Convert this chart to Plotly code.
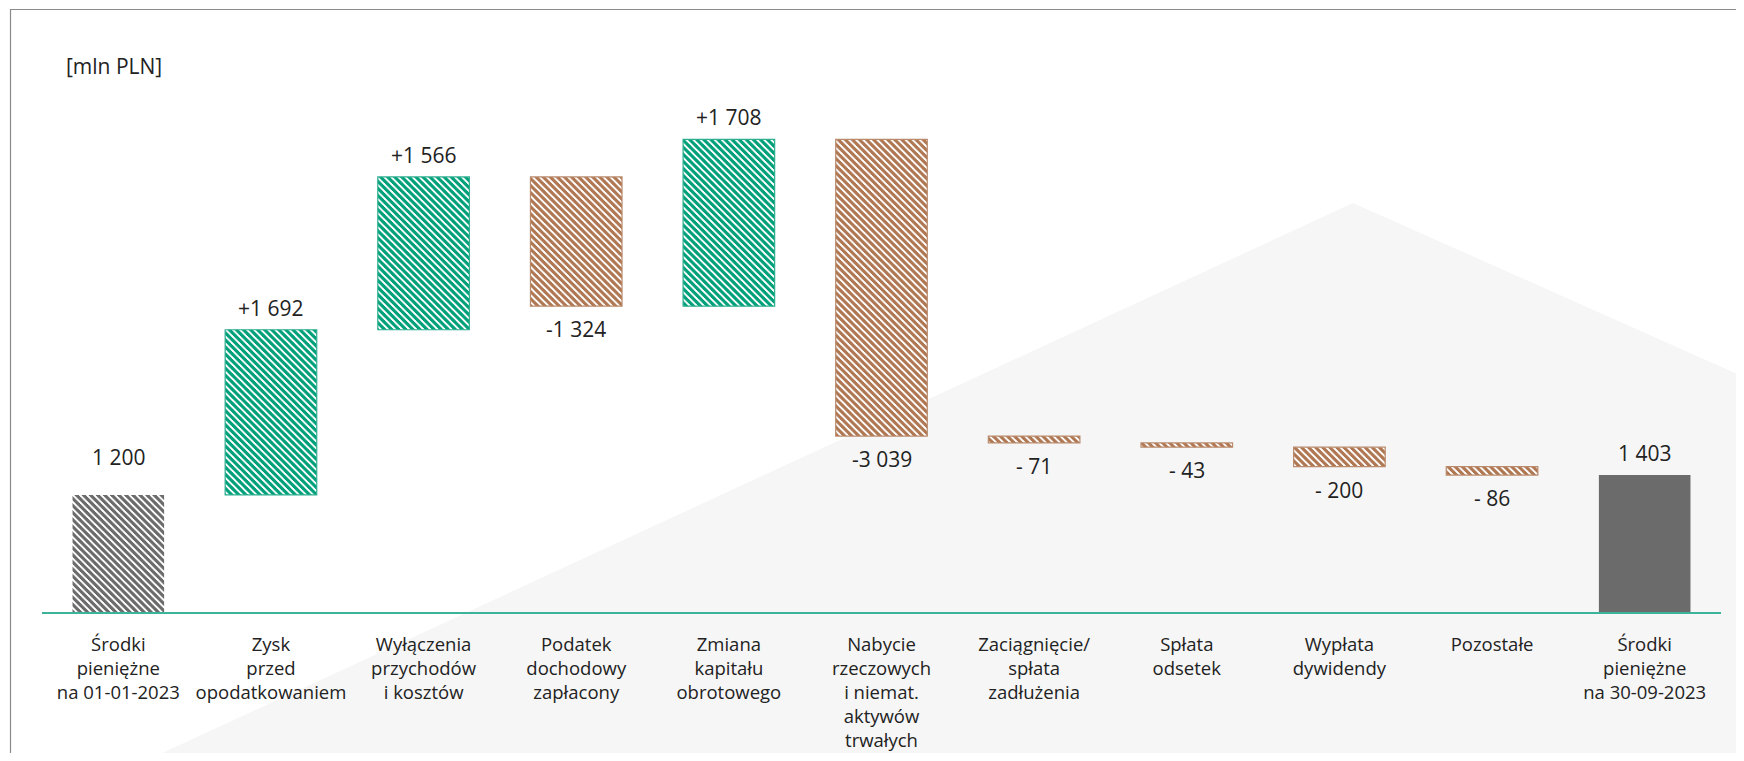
import numpy as np
import plotly.graph_objects as go

# ---- data ----
categories = [
    "Środki<br>pieniężne<br>na 01-01-2023",
    "Zysk<br>przed<br>opodatkowaniem",
    "Wyłączenia<br>przychodów<br>i kosztów",
    "Podatek<br>dochodowy<br>zapłacony",
    "Zmiana<br>kapitału<br>obrotowego",
    "Nabycie<br>rzeczowych<br>i niemat.<br>aktywów<br>trwałych",
    "Zaciągnięcie/<br>spłata<br>zadłużenia",
    "Spłata<br>odsetek",
    "Wypłata<br>dywidendy",
    "Pozostałe",
    "Środki<br>pieniężne<br>na 30-09-2023",
]
opening_value = 1200
changes = [1692, 1566, -1324, 1708, -3039, -71, -43, -200, -86]
closing_value = 1403
value_labels = ["1 200", "+1 692", "+1 566", "-1 324", "+1 708", "-3 039",
                "- 71", "- 43", "- 200", "- 86", "1 403"]
unit_label = "[mln PLN]"

# ---- derived ----
cum = opening_value + np.cumsum(changes)
prev = np.concatenate([[opening_value], cum[:-1]])
mid_cats = categories[1:-1]

GREEN = "#00a07a"
BROWN = "#b07753"
GRAY = "#6b6b6b"
TEXT = "#222222"
FONT = "Open Sans"

W = 0.6
PAT = dict(shape="\\", bgcolor="white", size=5, solidity=0.65, fgopacity=1)
fig = go.Figure()

# opening bar (hatched gray)
fig.add_trace(go.Bar(
    x=[categories[0]], y=[opening_value], base=[0], width=W,
    marker=dict(color="white", line=dict(width=0), pattern=dict(PAT, fgcolor=GRAY)),
    showlegend=False, hoverinfo="skip"))

inc_x = [c for c, d in zip(mid_cats, changes) if d > 0]
inc_y = [d for d in changes if d > 0]
inc_b = [p for p, d in zip(prev, changes) if d > 0]
dec_x = [c for c, d in zip(mid_cats, changes) if d < 0]
dec_y = [-d for d in changes if d < 0]
dec_b = [p + d for p, d in zip(prev, changes) if d < 0]

fig.add_trace(go.Bar(
    x=inc_x, y=inc_y, base=inc_b, width=W,
    marker=dict(color="white", line=dict(color="#2fae90", width=1.2),
                pattern=dict(PAT, fgcolor=GREEN)),
    showlegend=False, hoverinfo="skip"))
fig.add_trace(go.Bar(
    x=dec_x, y=dec_y, base=dec_b, width=W,
    marker=dict(color="white", line=dict(color="#b98a6c", width=1.2),
                pattern=dict(PAT, fgcolor=BROWN)),
    showlegend=False, hoverinfo="skip"))

# closing bar (solid gray)
fig.add_trace(go.Bar(
    x=[categories[-1]], y=[closing_value], base=[0], width=W,
    marker=dict(color=GRAY, line=dict(width=0)),
    showlegend=False, hoverinfo="skip"))

# value labels
ann = []
tops = [opening_value] + [max(p, c) for p, c in zip(prev, cum)] + [closing_value]
bottoms = [0] + [min(p, c) for p, c in zip(prev, cum)] + [0]
signs = [1] + [1 if d > 0 else -1 for d in changes] + [1]
for i, (cat, lab) in enumerate(zip(categories, value_labels)):
    if signs[i] > 0:
        shift = 22 if i == 0 else 6
        ann.append(dict(x=cat, y=tops[i], text=lab, showarrow=False, yanchor="bottom",
                        yshift=shift, font=dict(family=FONT, size=21, color=TEXT)))
    else:
        ann.append(dict(x=cat, y=bottoms[i], text=lab, showarrow=False, yanchor="top",
                        yshift=-7, font=dict(family=FONT, size=21, color=TEXT)))

# ---- layout geometry (page has an 8px body margin) ----
OFF = 8
FW, FH = 1744 - 2 * OFF, 761 - 2 * OFF
ML, MR, MT, MB = 34, 15, 92, 141
PW, PH = FW - ML - MR, FH - MT - MB
YMAX = 5246


def px(xs):
    return (xs - OFF - ML) / PW


def py(ys):
    return (FH - MB - (ys - OFF)) / PH


ann.append(dict(xref="paper", yref="paper", x=px(64), y=py(66), text=unit_label,
                showarrow=False, xanchor="left", yanchor="middle",
                font=dict(family=FONT, size=21, color=TEXT)))

shapes = [
    dict(type="path", xref="paper", yref="paper", layer="below",
         path=(f"M {px(145)} {py(761)} L {px(1353)} {py(203)} L {px(1744)} {py(377)} "
               f"L {px(1744)} {py(761)} Z"),
         fillcolor="#f6f6f6", line=dict(width=0)),
    dict(type="rect", xref="paper", yref="paper", layer="above",
         x0=px(10.5), y0=py(800), x1=px(1800), y1=py(9.5),
         line=dict(color="#8a8a8a", width=1.2), fillcolor="rgba(0,0,0,0)"),
]

fig.update_layout(
    width=FW, height=FH,
    margin=dict(l=ML, r=MR, t=MT, b=MB, pad=0, autoexpand=False),
    paper_bgcolor="white", plot_bgcolor="rgba(0,0,0,0)",
    barmode="overlay",
    annotations=ann, shapes=shapes,
    xaxis=dict(type="category", categoryorder="array", categoryarray=categories,
               range=[-0.5, 10.5], showline=True, linecolor="#3db39c", linewidth=2,
               showgrid=False, zeroline=False, ticks="", ticklabelstandoff=15,
               automargin=False,
               tickfont=dict(family=FONT, size=18.5, color=TEXT), fixedrange=True),
    yaxis=dict(range=[0, YMAX], visible=False, showgrid=False, zeroline=False,
               automargin=False, fixedrange=True),
    font=dict(family=FONT, color=TEXT),
)

post = ("function crisp(){document.querySelectorAll('pattern, pattern *').forEach(function(e){"
        "e.setAttribute('shape-rendering','crispEdges');});}"
        "crisp(); setTimeout(crisp, 50); setTimeout(crisp, 300);")
fig.write_html("out.html", post_script=post)
